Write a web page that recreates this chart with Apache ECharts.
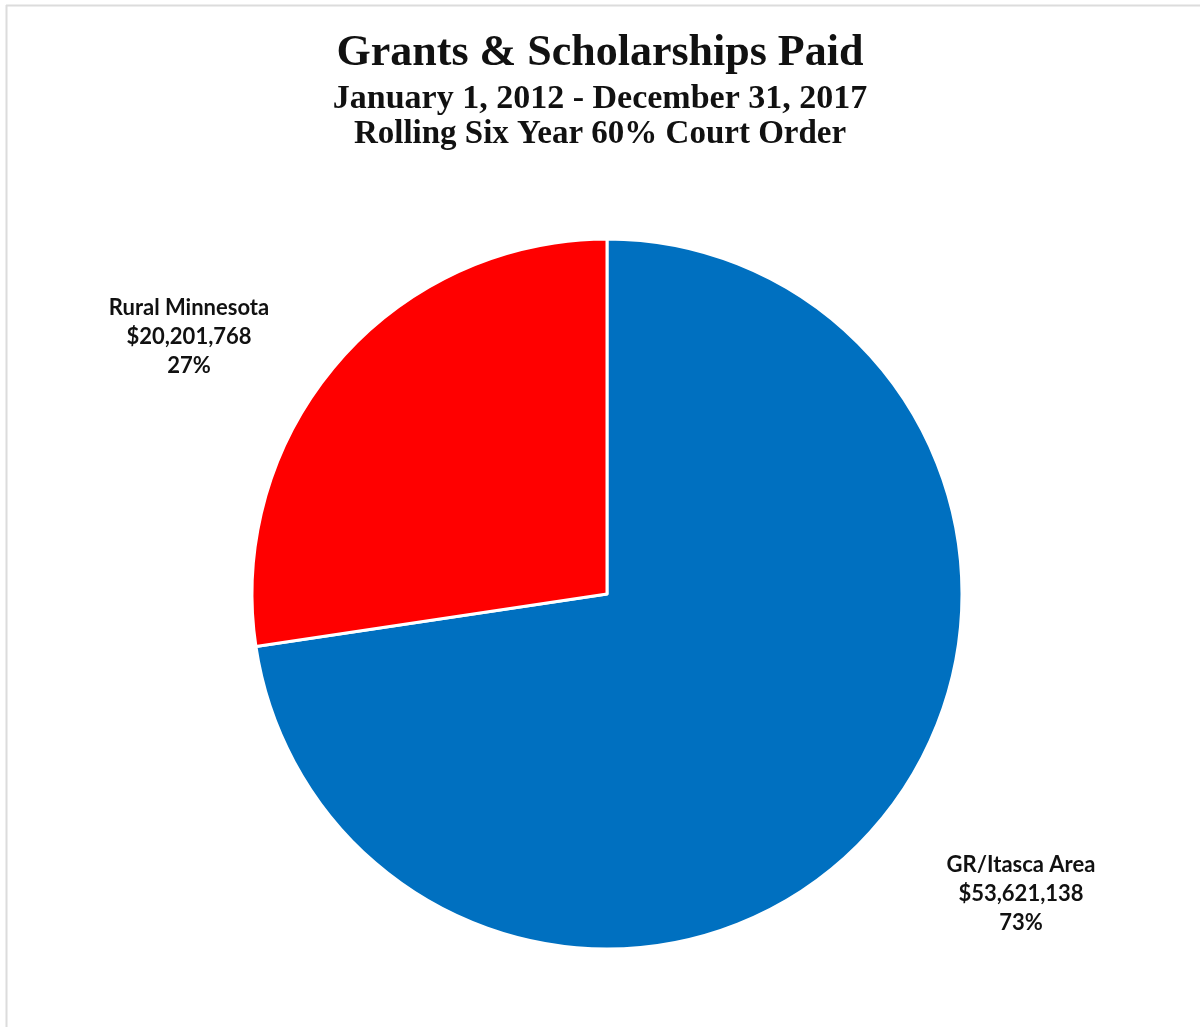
<!DOCTYPE html>
<html><head><meta charset="utf-8">
<script src="https://cdn.jsdelivr.net/npm/echarts@6/dist/echarts.min.js"></script>
<style>html,body{margin:0;padding:0;background:#fff}#c{width:1200px;height:1027px}</style>
</head><body><div id="c"></div>
<script>
const titleLines = ['Grants & Scholarships Paid', 'January 1, 2012 - December 31, 2017', 'Rolling Six Year 60% Court Order'];
const categories = ['GR/Itasca Area', 'Rural Minnesota'];
const amounts = [53621138, 20201768];
const percents = ['73%', '27%'];
const colors = ['#0070C0', '#FF0000'];
const labelPos = [[1021, 894], [189, 337]];

const chart = echarts.init(document.getElementById('c'), null, {renderer: 'canvas'});
const serif = '"Liberation Serif", "DejaVu Serif", serif';
const sans = 'Lato, "Open Sans", "Liberation Sans", sans-serif';
function fmt(n){ return '$' + n.toLocaleString('en-US'); }
chart.setOption({
  backgroundColor: '#fff',
  animation: false,
  title: [
    {text: titleLines[0], left: 'center', top: 27, textStyle: {fontFamily: serif, fontWeight: 'bold', fontSize: 44, color: '#111'}},
    {text: titleLines[1], left: 'center', top: 77, textStyle: {fontFamily: serif, fontWeight: 'bold', fontSize: 34, color: '#111'}},
    {text: titleLines[2], left: 'center', top: 113, textStyle: {fontFamily: serif, fontWeight: 'bold', fontSize: 33, color: '#111'}}
  ],
  graphic: [
    {type: 'line', shape: {x1: 6, y1: 5.5, x2: 1200, y2: 5.5}, style: {stroke: '#dcdcdc', lineWidth: 2}},
    {type: 'line', shape: {x1: 6.5, y1: 5, x2: 6.5, y2: 1027}, style: {stroke: '#dcdcdc', lineWidth: 2}}
  ],
  series: [{
    type: 'pie',
    center: [607, 594],
    radius: [0, 355],
    startAngle: 90,
    clockwise: true,
    itemStyle: {borderColor: '#fff', borderWidth: 3},
    label: {
      show: true,
      position: 'outside',
      formatter: p => p.name + '\n' + fmt(amounts[p.dataIndex]) + '\n' + percents[p.dataIndex],
      fontFamily: sans, fontWeight: 'bold', fontSize: 22, color: '#111', lineHeight: 29, align: 'center'
    },
    labelLine: {show: false},
    labelLayout: p => ({x: labelPos[p.dataIndex][0], y: labelPos[p.dataIndex][1], align: 'center', verticalAlign: 'middle'}),
    emphasis: {disabled: true},
    data: categories.map((c, i) => ({name: c, value: amounts[i], itemStyle: {color: colors[i]}}))
  }]
});
</script></body></html>
